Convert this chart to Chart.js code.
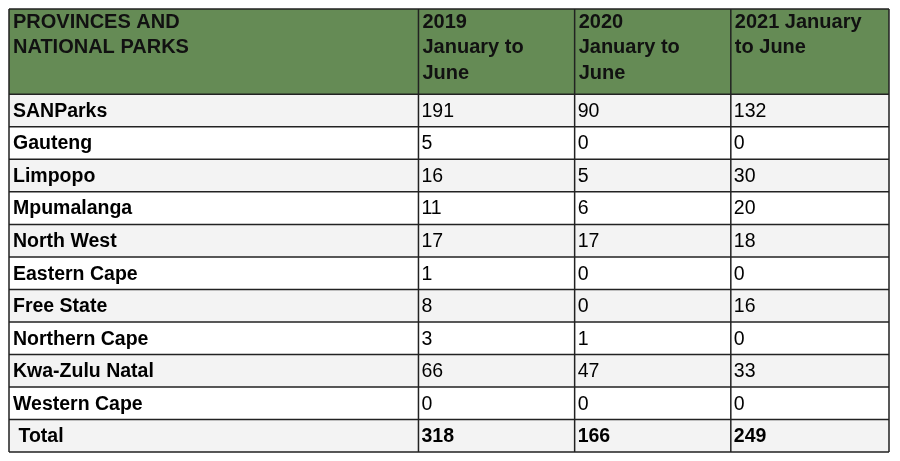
<!DOCTYPE html>
<html><head><meta charset="utf-8">
<script src="https://cdn.jsdelivr.net/npm/chart.js@4"></script>
<style>html,body{margin:0;padding:0;background:#fff}#w{width:900px;height:461px}</style>
</head><body><div id="w"><canvas id="c"></canvas></div>
<script>
const headers = ["PROVINCES AND\nNATIONAL PARKS", "2019\nJanuary to\nJune", "2020\nJanuary to\nJune", "2021 January\nto June"];
const categories = ["SANParks","Gauteng","Limpopo","Mpumalanga","North West","Eastern Cape","Free State","Northern Cape","Kwa-Zulu Natal","Western Cape"," Total"];
const y2019 = [191,5,16,11,17,1,8,3,66,0,318];
const y2020 = [90,0,5,6,17,0,0,1,47,0,166];
const y2021 = [132,0,30,20,18,0,16,0,33,0,249];

const colEdges = [0,409,565,721,879];
const headerH = 85, rowH = 32.4;
const totalH = headerH + rowH*categories.length;

const tablePlugin = {
  id:'table',
  afterDraw(chart){
    const ctx = chart.ctx, xs = chart.scales.x, ys = chart.scales.y;
    const X = v=>xs.getPixelForValue(v), Y = v=>ys.getPixelForValue(v);
    const cols = [null,y2019,y2020,y2021];
    ctx.save();
    // header
    ctx.fillStyle = '#658b55';
    ctx.fillRect(X(0),Y(0),X(colEdges[4])-X(0),Y(headerH)-Y(0));
    ctx.fillStyle = '#111';
    ctx.textBaseline = 'top';
    ctx.font = 'bold 20px "Liberation Sans", Arial, sans-serif';
    headers.forEach((h,i)=>{
      h.split('\n').forEach((ln,j)=>ctx.fillText(ln, X(colEdges[i])+4, Y(0)+3+j*25.5));
    });
    // rows
    categories.forEach((cat,r)=>{
      const top = headerH + r*rowH;
      ctx.fillStyle = r%2===0 ? '#f3f3f3' : '#ffffff';
      ctx.fillRect(X(0),Y(top),X(colEdges[4])-X(0),Y(top+rowH)-Y(top));
      ctx.fillStyle = '#000';
      ctx.textBaseline = 'middle';
      const isTotal = r===categories.length-1;
      ctx.font = 'bold 19.5px "Liberation Sans", Arial, sans-serif';
      ctx.fillText(cat, X(colEdges[0])+4, Y(top+rowH/2)+1);
      ctx.font = (isTotal?'bold ':'')+'19.5px "Liberation Sans", Arial, sans-serif';
      for(let c=1;c<4;c++) ctx.fillText(String(cols[c][r]), X(colEdges[c])+3, Y(top+rowH/2)+1);
    });
    // grid
    ctx.strokeStyle = '#222'; ctx.lineWidth = 1.5;
    ctx.beginPath();
    colEdges.forEach(e=>{ctx.moveTo(X(e),Y(0));ctx.lineTo(X(e),Y(totalH));});
    ctx.moveTo(X(0),Y(0));ctx.lineTo(X(colEdges[4]),Y(0));
    for(let r=0;r<=categories.length;r++){const yy=Y(headerH+r*rowH);ctx.moveTo(X(0),yy);ctx.lineTo(X(colEdges[4]),yy);}
    ctx.stroke();
    ctx.restore();
  }
};

new Chart(document.getElementById('c'),{
  type:'scatter',
  data:{datasets:[{data:[],pointRadius:0}]},
  options:{
    responsive:true, maintainAspectRatio:false, animation:false,
    layout:{padding:{left:9,top:9,right:11,bottom:9}},
    plugins:{legend:{display:false},tooltip:{enabled:false}},
    scales:{
      x:{type:'linear',min:0,max:colEdges[4],display:false},
      y:{type:'linear',min:0,max:totalH,reverse:true,display:false}
    }
  },
  plugins:[tablePlugin]
});
</script></body></html>
